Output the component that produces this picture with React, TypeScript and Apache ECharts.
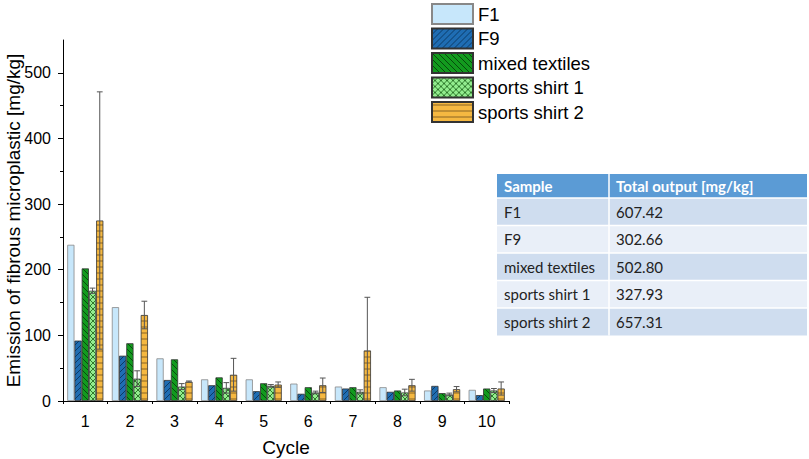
import React, { useEffect, useRef } from "react";
import * as echarts from "echarts";

const cycles = ["1", "2", "3", "4", "5", "6", "7", "8", "9", "10"];
const seriesNames = ["F1", "F9", "mixed textiles", "sports shirt 1", "sports shirt 2"];
const f1 = [238, 143, 65, 33, 33, 26.5, 22, 21, 16, 17];
const f9 = [92, 69, 32, 24, 15, 11, 19, 14, 23, 9];
const mixedTextiles = [202, 88, 63.5, 36, 27, 21, 21, 16, 12, 19];
const sportsShirt1 = [168, 34, 22, 20, 23, 13, 14, 13, 10, 16];
const sportsShirt1Err = [4, 12, 4.5, 8, 2, 2, 3, 5, 2, 3];
const sportsShirt2 = [275, 131, 29.5, 40, 25, 24, 77, 24, 18, 19];
const sportsShirt2Err = [196, 21, 1, 25, 4, 11, 81, 9, 4, 10];
const yTicks = [0, 100, 200, 300, 400, 500];

const tableHeader = ["Sample", "Total output [mg/kg]"];
const tableSamples = ["F1", "F9", "mixed textiles", "sports shirt 1", "sports shirt 2"];
const tableTotals = ["607.42", "302.66", "502.80", "327.93", "657.31"];

const CAT_GAP = 0.19;
const N_BARS = 5;

function makePattern(bg: string, fg: string, kind: string) {
  const s = 6;
  const c = document.createElement("canvas");
  c.width = s;
  c.height = s;
  const g = c.getContext("2d")!;
  g.fillStyle = bg;
  g.fillRect(0, 0, s, s);
  g.strokeStyle = fg;
  g.lineWidth = 1;
  g.beginPath();
  if (kind === "diagR" || kind === "cross") {
    g.moveTo(-1, s + 1);
    g.lineTo(s + 1, -1);
    g.moveTo(-1, 1);
    g.lineTo(1, -1);
    g.moveTo(s - 1, s + 1);
    g.lineTo(s + 1, s - 1);
  }
  if (kind === "diagL" || kind === "cross") {
    g.moveTo(-1, -1);
    g.lineTo(s + 1, s + 1);
    g.moveTo(s - 1, -1);
    g.lineTo(s + 1, 1);
    g.moveTo(-1, s - 1);
    g.lineTo(1, s + 1);
  }
  if (kind === "hor") {
    g.moveTo(0, s / 2);
    g.lineTo(s, s / 2);
  }
  g.stroke();
  return { image: c.toDataURL(), repeat: "repeat", imageWidth: s, imageHeight: s } as any;
}

function errorSeries(values: number[], errs: number[], pos: number) {
  return {
    type: "custom",
    z: 5,
    silent: true,
    data: values.map((v, i) => [i, v, errs[i]]),
    encode: { x: 0, y: 1 },
    renderItem: (params: any, api: any) => {
      const idx = api.value(0);
      const v = api.value(1);
      const e = api.value(2);
      const band = api.size([1, 0])[0];
      const group = band * (1 - CAT_GAP);
      const bw = group / N_BARS;
      const x = api.coord([idx, 0])[0] - group / 2 + bw * (pos + 0.5);
      const lo = Math.max(v - e, 0);
      const yTop = api.coord([idx, v + e])[1];
      const yBot = api.coord([idx, lo])[1];
      const cap = bw * 0.8;
      const st = { stroke: "#555", lineWidth: 1 };
      const children: any[] = [
        { type: "line", shape: { x1: x, y1: yTop, x2: x, y2: yBot }, style: st },
        { type: "line", shape: { x1: x - cap / 2, y1: yTop, x2: x + cap / 2, y2: yTop }, style: st },
      ];
      if (lo > 0) {
        children.push({ type: "line", shape: { x1: x - cap / 2, y1: yBot, x2: x + cap / 2, y2: yBot }, style: st });
      }
      return { type: "group", children };
    },
  };
}

export default function App() {
  const ref = useRef<HTMLDivElement>(null);
  useEffect(() => {
    document.body.style.margin = "0";
    const chart = echarts.init(ref.current!, null, { renderer: "svg" });
    const fills = [
      "#C7E7FB",
      makePattern("#1F6DB3", "#0B3A66", "diagR"),
      makePattern("#129A1E", "#064A0C", "diagL"),
      makePattern("#92EC8E", "#2F7A2C", "cross"),
      makePattern("#F5B841", "#8A6424", "hor"),
    ];
    const borders = ["#888", "#333", "#333", "#333", "#333"];
    const values = [f1, f9, mixedTextiles, sportsShirt1, sportsShirt2];
    const barSeries = seriesNames.map((name, k) => ({
      name,
      type: "bar",
      data: values[k],
      barGap: "0%",
      barCategoryGap: CAT_GAP * 100 + "%",
      itemStyle: { color: fills[k], borderColor: borders[k], borderWidth: 0.8 },
    }));

    const font = "Liberation Sans";
    const tableX = 497;
    const tableW = 310;
    const col2X = 609;
    const headerY = 174;
    const headerH = 24;
    const rowH = 27.5;
    const tfont = "Lato";
    const tableEls: any[] = [];
    tableEls.push({ type: "rect", shape: { x: tableX, y: headerY, width: tableW, height: headerH }, style: { fill: "#5B9BD5" } });
    tableEls.push({ type: "text", x: tableX + 7, y: headerY + headerH / 2, style: { text: tableHeader[0], fill: "#fff", font: `bold 15px ${tfont}`, verticalAlign: "middle" } });
    tableEls.push({ type: "text", x: col2X + 7, y: headerY + headerH / 2, style: { text: tableHeader[1], fill: "#fff", font: `bold 15px ${tfont}`, verticalAlign: "middle" } });
    tableSamples.forEach((s, i) => {
      const y = headerY + headerH + i * rowH;
      tableEls.push({ type: "rect", shape: { x: tableX, y, width: tableW, height: rowH }, style: { fill: i % 2 === 0 ? "#CFDDEF" : "#E9EFF8" } });
      tableEls.push({ type: "text", x: tableX + 7, y: y + rowH / 2, style: { text: s, fill: "#222", font: `15px ${tfont}`, verticalAlign: "middle" } });
      tableEls.push({ type: "text", x: col2X + 7, y: y + rowH / 2, style: { text: tableTotals[i], fill: "#222", font: `15px ${tfont}`, verticalAlign: "middle" } });
      tableEls.push({ type: "line", shape: { x1: tableX, y1: y, x2: tableX + tableW, y2: y }, style: { stroke: "#fff", lineWidth: 1.5 } });
    });
    const tableBottom = headerY + headerH + tableSamples.length * rowH;
    tableEls.push({ type: "line", shape: { x1: col2X, y1: headerY, x2: col2X, y2: tableBottom }, style: { stroke: "#fff", lineWidth: 1.5 } });

    chart.setOption({
      animation: false,
      backgroundColor: "#fff",
      textStyle: { fontFamily: font },
      grid: { left: 63, right: 300, top: 40, bottom: 58, containLabel: false, outerBoundsMode: "none" },
      legend: {
        data: seriesNames,
        orient: "vertical",
        left: 431,
        top: 3,
        itemWidth: 41,
        itemHeight: 20,
        itemGap: 2.5,
        icon: "rect",
        padding: 0,
        textStyle: { fontSize: 18.5, color: "#000", fontFamily: font },
      },
      xAxis: [
        {
          type: "category",
          data: cycles,
          name: "Cycle",
          nameLocation: "middle",
          nameGap: 37,
          nameMoveOverlap: false,
          nameTextStyle: { fontSize: 19, color: "#000", fontFamily: font },
          axisLine: { lineStyle: { color: "#000", width: 1 } },
          axisTick: { alignWithLabel: true, length: 6, lineStyle: { color: "#000" } },
          axisLabel: { fontSize: 16, color: "#000", margin: 12, fontFamily: font },
        },
        {
          type: "category",
          data: cycles,
          position: "bottom",
          axisLine: { show: false },
          axisTick: { show: true, alignWithLabel: false, length: 3, lineStyle: { color: "#000" } },
          axisLabel: { show: false },
        },
      ],
      yAxis: {
        type: "value",
        min: 0,
        max: 550,
        interval: 100,
        name: "Emission of fibrous microplastic [mg/kg]",
        nameLocation: "middle",
        nameGap: 40,
        nameMoveOverlap: false,
        nameTextStyle: { fontSize: 19, color: "#000", fontFamily: font },
        axisLine: { show: true, lineStyle: { color: "#000", width: 1 } },
        axisTick: { show: true, length: 5, customValues: yTicks, lineStyle: { color: "#000" } },
        minorTick: { show: true, splitNumber: 2, length: 3, lineStyle: { color: "#000" } },
        axisLabel: { fontSize: 16, color: "#000", margin: 12, customValues: yTicks, fontFamily: font },
        splitLine: { show: false },
      },
      series: [
        ...barSeries,
        errorSeries(sportsShirt1, sportsShirt1Err, 3),
        errorSeries(sportsShirt2, sportsShirt2Err, 4),
      ],
      graphic: tableEls,
    } as any);
    return () => chart.dispose();
  }, []);
  return <div ref={ref} style={{ width: 809, height: 459 }} />;
}
